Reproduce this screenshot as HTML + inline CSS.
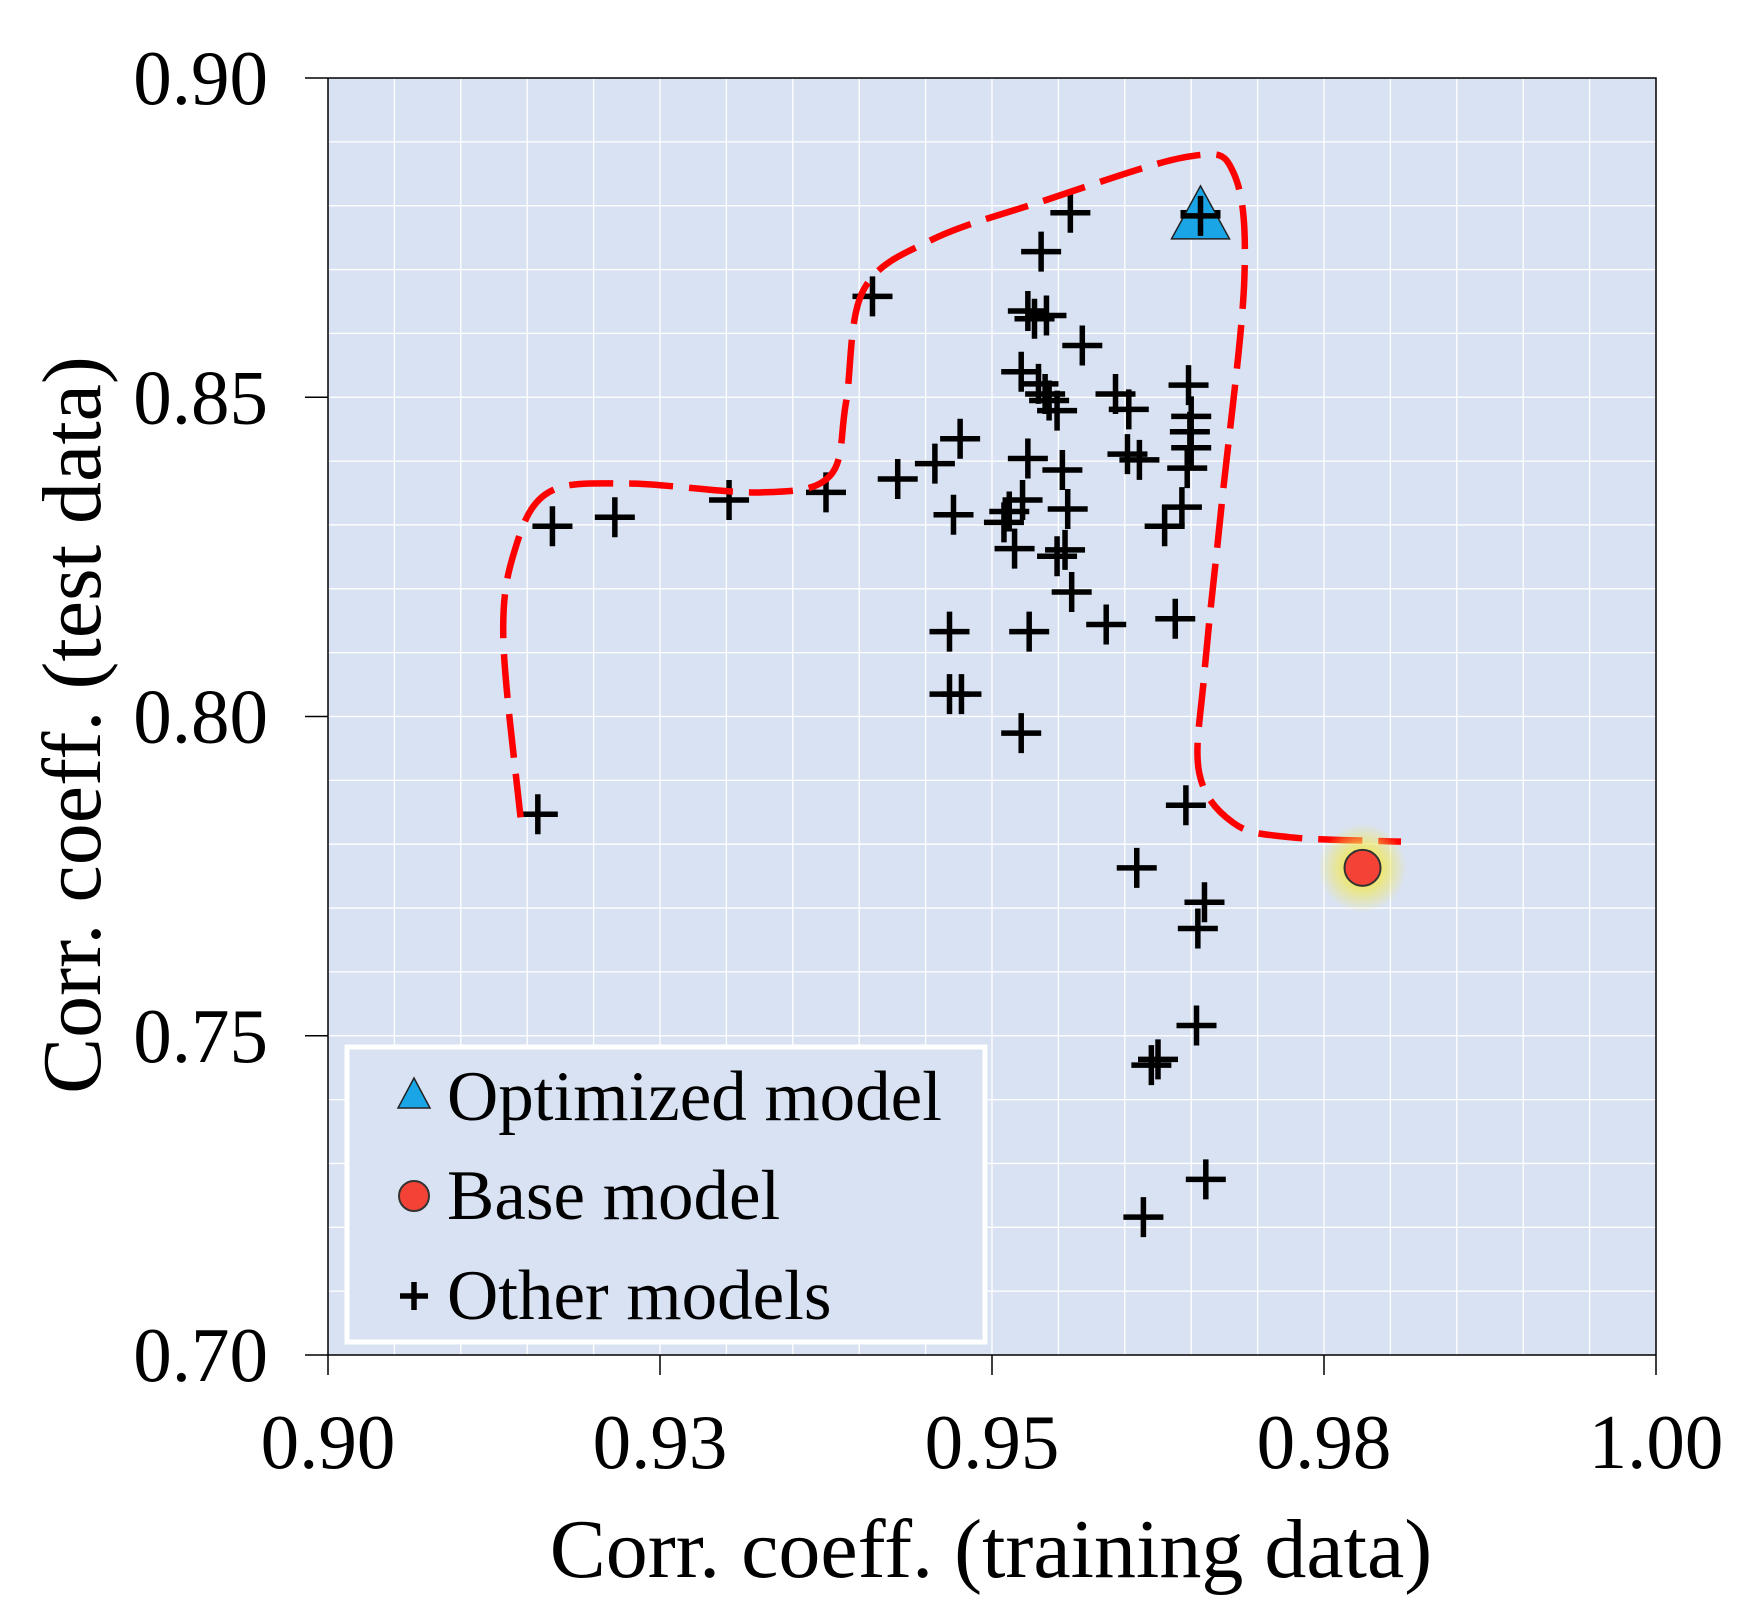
<!DOCTYPE html>
<html><head><meta charset="utf-8"><style>
html,body{margin:0;padding:0;background:#fff}
svg{display:block;font-family:"Liberation Serif",serif}
</style></head><body>
<svg id="chart" width="1757" height="1621" viewBox="0 0 1757 1621">
<defs><radialGradient id="glow"><stop offset="0.4" stop-color="#f0e860" stop-opacity="0.9"/><stop offset="1" stop-color="#f0e860" stop-opacity="0"/></radialGradient></defs>
</svg>
<script>
const xTicks=[0.90,0.925,0.95,0.975,1.00];
const xTickLabels=["0.90","0.93","0.95","0.98","1.00"];
const yTicks=[0.70,0.75,0.80,0.85,0.90];
const yTickLabels=["0.70","0.75","0.80","0.85","0.90"];
const otherX=[0.9158,0.9169,0.9216,0.9302,0.9375,0.9410,0.9429,0.9457,0.9471,0.9476,0.9468,0.9468,0.9477,0.9509,0.9517,0.9513,0.9522,0.9528,0.9527,0.9523,0.9537,0.9527,0.9532,0.9541,0.9522,0.9535,0.9540,0.9549,0.9543,0.9553,0.9557,0.9549,0.9555,0.9560,0.9559,0.9568,0.9586,0.9593,0.9603,0.9602,0.9611,0.9609,0.9614,0.9620,0.9625,0.9630,0.9638,0.9643,0.9646,0.9648,0.9650,0.9649,0.9650,0.9647,0.9654,0.9655,0.9660,0.9661,0.9657];
const otherY=[0.7847,0.8298,0.8312,0.8339,0.8351,0.8658,0.8372,0.8396,0.8316,0.8435,0.8133,0.8035,0.8035,0.8304,0.8263,0.8321,0.7974,0.8133,0.8404,0.8339,0.8728,0.8635,0.8623,0.8628,0.8540,0.8521,0.8505,0.8479,0.8495,0.8386,0.8325,0.8251,0.8261,0.8195,0.8789,0.8581,0.8144,0.8505,0.8481,0.8411,0.8402,0.7763,0.7216,0.7454,0.7463,0.8298,0.8153,0.8328,0.7861,0.8519,0.8470,0.8446,0.8421,0.8389,0.7516,0.7668,0.7709,0.7275,0.8789];
const optX=[0.9657], optY=[0.8784];
const baseX=[0.9779], baseY=[0.7763];
const frontX=[0.9145,0.9132,0.9141,0.9166,0.9225,0.9327,0.9378,0.9390,0.9403,0.9454,0.9538,0.9648,0.9682,0.9690,0.9673,0.9660,0.9656,0.9682,0.9724,0.9808];
const frontY=[0.7842,0.8123,0.8263,0.8351,0.8365,0.8351,0.8377,0.8491,0.8667,0.8746,0.8807,0.8877,0.8851,0.8684,0.8333,0.8070,0.7912,0.7833,0.7811,0.7804];

const L=328,R=1656,T=78,B=1355;
const sx=v=>L+(v-0.9)/0.1*(R-L);
const sy=v=>B-(v-0.7)/0.2*(B-T);
const svg=document.getElementById('chart');
const NS='http://www.w3.org/2000/svg';
function mk(tag,attrs,parent){const e=document.createElementNS(NS,tag);for(const k in attrs)e.setAttribute(k,attrs[k]);(parent||svg).appendChild(e);return e;}

let e=mk('rect',{x:L,y:T,width:R-L,height:B-T,fill:'#d9e2f2'});


const grid=mk('g',{stroke:'#fff','stroke-width':1.3});


for(let i=1;i<20;i++){mk('line',{x1:sx(0.9+i*0.005),x2:sx(0.9+i*0.005),y1:T,y2:B},grid);}
for(let i=1;i<20;i++){mk('line',{y1:sy(0.7+i*0.01),y2:sy(0.7+i*0.01),x1:L,x2:R},grid);}
e=mk('path',{d:`M${L},${T}H${R}V${B}`,fill:'none',stroke:'#000','stroke-width':1.5});


e=mk('line',{x1:L,x2:L,y1:T,y2:B,stroke:'#000','stroke-width':1.5});


e=mk('line',{x1:L,x2:R,y1:B,y2:B,stroke:'#000','stroke-width':1.5});


xTicks.forEach((v,i)=>{
 mk('line',{x1:sx(v),x2:sx(v),y1:B,y2:B+20,stroke:'#000','stroke-width':1.5});
 const t=mk('text',{x:sx(v),y:1468,'text-anchor':'middle','font-size':77});
 t.textContent=xTickLabels[i];
 
 
});
yTicks.forEach((v,i)=>{
 mk('line',{x1:L-23,x2:L,y1:sy(v),y2:sy(v),stroke:'#000','stroke-width':1.5});
 const t=mk('text',{x:268,y:sy(v)+26,'text-anchor':'end','font-size':77});
 t.textContent=yTickLabels[i];
 
 
});
let t=mk('text',{x:991,y:1577,'text-anchor':'middle','font-size':84});
t.textContent='Corr. coeff. (training data)';


t=mk('text',{x:0,y:0,'text-anchor':'middle','font-size':84,transform:'translate(100,725) rotate(-90)'});
t.textContent='Corr. coeff. (test data)';



const P=frontX.map((v,i)=>[sx(v),sy(frontY[i])]);
let d=`M${P[0][0]},${P[0][1]}`;
for(let i=0;i<P.length-1;i++){const p0=P[Math.max(0,i-1)],p1=P[i],p2=P[i+1],p3=P[Math.min(P.length-1,i+2)];
 d+=`C${p1[0]+(p2[0]-p0[0])/6},${p1[1]+(p2[1]-p0[1])/6} ${p2[0]-(p3[0]-p1[0])/6},${p2[1]-(p3[1]-p1[1])/6} ${p2[0]},${p2[1]}`;}

const pts=mk('g',{stroke:'#000','stroke-width':5.5});


otherX.forEach((v,i)=>{const x=sx(v),y=sy(otherY[i]);
 const p=mk('path',{d:`M${x-20},${y}H${x+20}M${x},${y-20}V${y+20}`},pts);
 
 
});
e=mk('path',{d:d,fill:'none',stroke:'#ff0000','stroke-width':6.5,'stroke-dasharray':'44 16'});


const ox=sx(optX[0]),oy=sy(optY[0]);
e=mk('path',{d:`M${ox},${oy-30}L${ox+29},${oy+23}L${ox-29},${oy+23}Z`,fill:'#1aa6e6',stroke:'#222','stroke-width':1.5});


mk('path',{d:`M${ox-20},${oy}H${ox+20}M${ox},${oy-20}V${oy+20}`,stroke:'#000','stroke-width':5.5});
const bx=sx(baseX[0]),by=sy(baseY[0]);
mk('circle',{cx:bx,cy:by,r:44,fill:'url(#glow)'});
e=mk('circle',{cx:bx,cy:by,r:18,fill:'#f44336',stroke:'#333','stroke-width':2});



const lg=mk('g',{});


mk('rect',{x:347,y:1047,width:638,height:295,fill:'#d9e2f2',stroke:'#fff','stroke-width':5},lg);
let le=mk('path',{d:'M414,1078L430,1108L398,1108Z',fill:'#1aa6e6',stroke:'#222','stroke-width':1.5},lg);


le=mk('circle',{cx:414,cy:1196,r:15,fill:'#f44336',stroke:'#333','stroke-width':2},lg);


le=mk('path',{d:'M400,1296H428M414,1282V1310',stroke:'#000','stroke-width':5.5},lg);


[['Optimized model',1120],['Base model',1219],['Other models',1319]].forEach(a=>{
 const tt=mk('text',{x:447,y:a[1],'font-size':71},lg);tt.textContent=a[0];
 
 
});
</script>
</body></html>
